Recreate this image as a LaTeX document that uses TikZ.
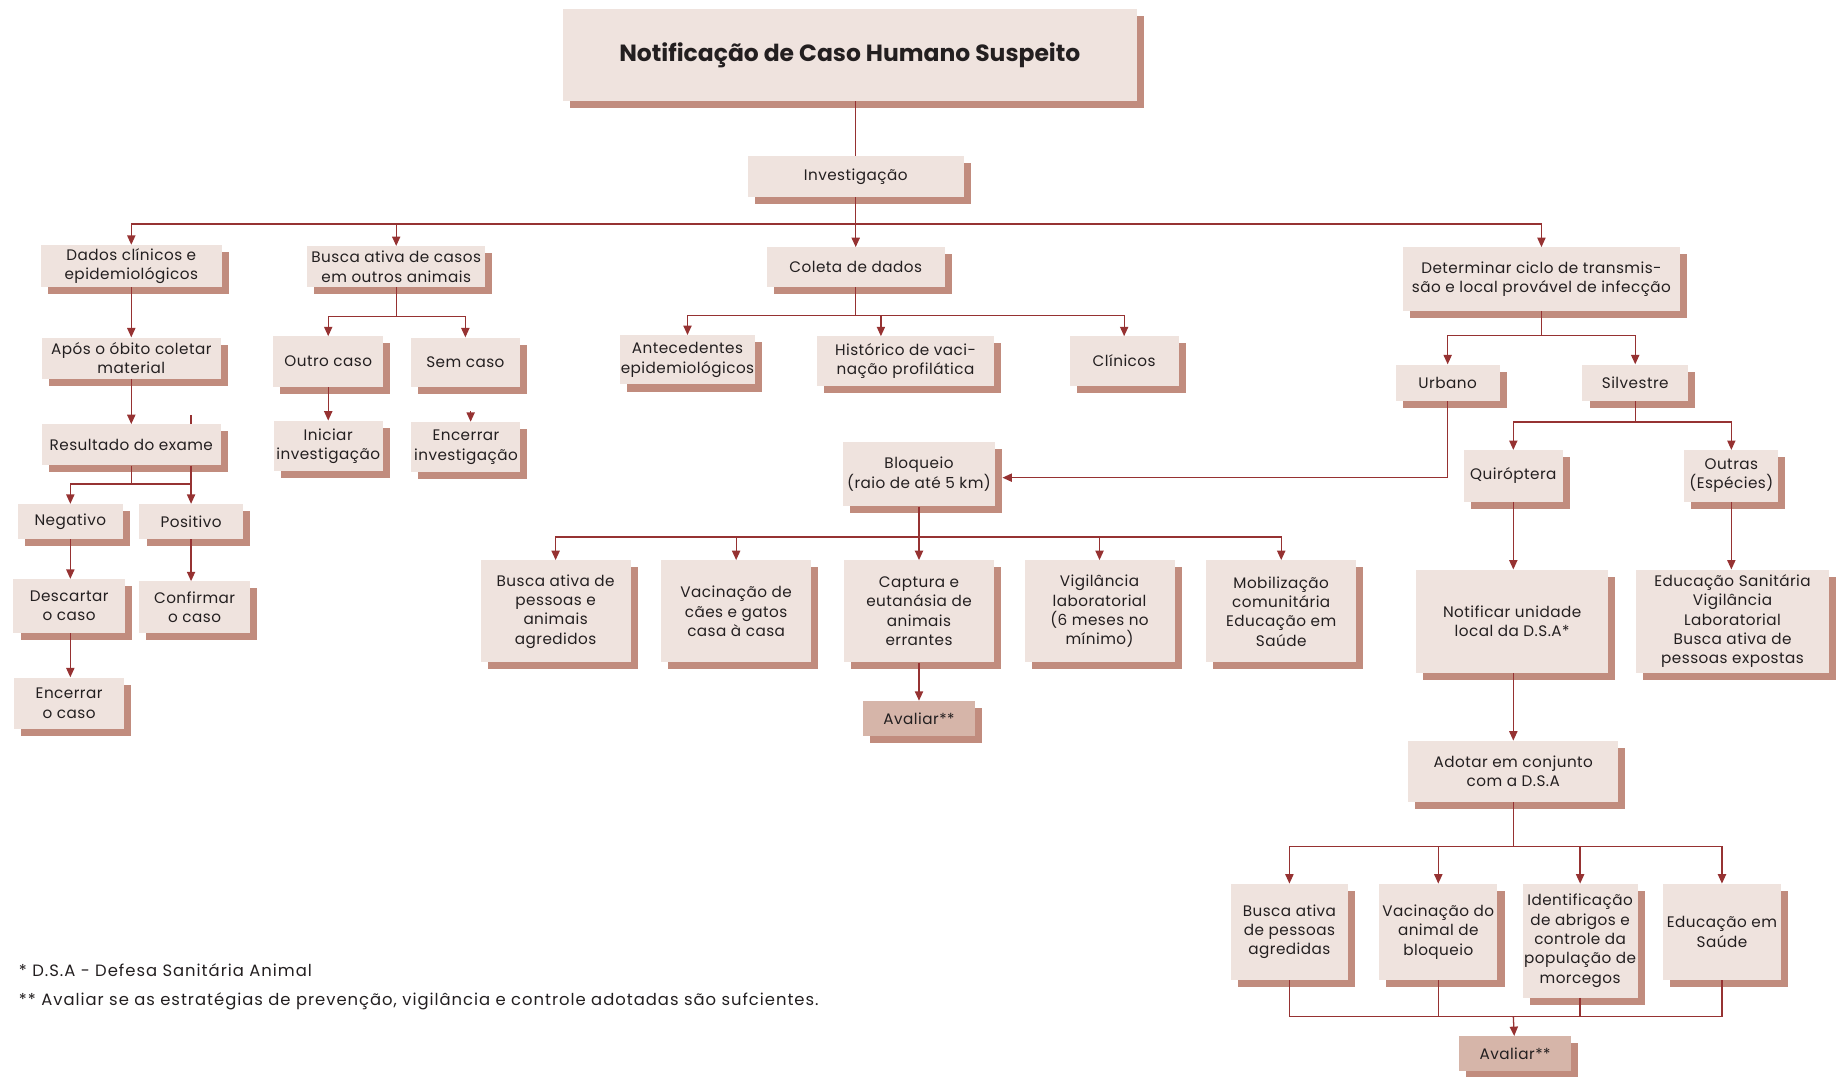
\documentclass[tikz,border=0pt]{standalone}
\usepackage{fontspec}
\setmainfont{Poppins}
\usetikzlibrary{arrows.meta,shadows,calc,positioning}
\definecolor{corfundo}{RGB}{239,227,222}
\definecolor{corsombra}{RGB}{193,140,126}
\definecolor{coraval}{RGB}{214,181,169}
\definecolor{corlinha}{RGB}{150,50,50}
\definecolor{cortexto}{RGB}{35,31,32}

\begin{document}
\begin{tikzpicture}[
    x=1pt, y=-1pt,
    caixa/.style={rectangle, fill=corfundo, text=cortexto, align=center, inner sep=1pt,
        font=\fontsize{13}{16.5}\selectfont\addfontfeature{LetterSpace=3},
        drop shadow={shadow xshift=6pt, shadow yshift=-6pt, fill=corsombra, opacity=1}},
    tam/.style 2 args={minimum width=#1pt, minimum height=#2pt},
    aval/.style={caixa, fill=coraval},
    nota/.style={anchor=west, text=cortexto, inner sep=0pt,
        font=\fontsize{14}{16}\selectfont\addfontfeature{LetterSpace=6}},
    linha/.style={draw=corlinha, line width=1.1pt},
    seta/.style={linha, -{Triangle[length=8pt, width=7pt]}}
]
\useasboundingbox (0,0) rectangle (1568,918);

% Topo
\node[caixa, tam={490}{78}, font=\fontsize{20}{23}\selectfont\bfseries] (titulo) at (725,47) {Notificação de Caso Humano Suspeito};
\node[caixa, tam={184}{35}] (inv) at (730,150.5) {Investigação};

% Primeiro nivel
\node[caixa, tam={154}{36}] (dados) at (112,227) {Dados clínicos e\\epidemiológicos};
\node[caixa, tam={152}{35}] (buscacasos) at (338,227.5) {Busca ativa de casos\\em outros animais};
\node[caixa, tam={152}{34}] (coleta) at (730,228) {Coleta de dados};
\node[caixa, tam={237}{54}] (determ) at (1315,238) {Determinar ciclo de transmis-\\são e local provável de infecção};

% Coluna da esquerda
\node[caixa, tam={153}{35}] (apos) at (112,305.5) {Após o óbito coletar\\material};
\node[caixa, tam={153}{35}] (result) at (112,379.5) {Resultado do exame};
\node[caixa, tam={90}{30}] (neg) at (60,445) {Negativo};
\node[caixa, tam={88}{30}] (pos) at (163,445) {Positivo};
\node[caixa, tam={95}{46}] (descartar) at (59,517) {Descartar\\o caso};
\node[caixa, tam={95}{44}] (confirmar) at (166,518) {Confirmar\\o caso};
\node[caixa, tam={94}{44}] (encerrar) at (59,600) {Encerrar\\o caso};

% Busca em outros animais
\node[caixa, tam={94}{43}] (outro) at (280,308.5) {Outro caso};
\node[caixa, tam={93}{42}] (semcaso) at (397,309) {Sem caso};
\node[caixa, tam={93}{43}] (iniciar) at (280,380.5) {Iniciar\\investigação};
\node[caixa, tam={93}{43}] (encinv) at (397.5,381.5) {Encerrar\\investigação};

% Coleta de dados
\node[caixa, tam={107}{42}] (antec) at (586.5,307) {Antecedentes\\epidemiológicos};
\node[caixa, tam={151}{42}] (hist) at (772.5,308) {Histórico de vaci-\\nação profilática};
\node[caixa, tam={93}{42}] (clin) at (959,308) {Clínicos};

% Bloqueio
\node[caixa, tam={130}{55}] (bloq) at (784,404.5) {Bloqueio\\(raio de até 5 km)};
\node[caixa, tam={128}{87}] (buscapes) at (474,521.5) {Busca ativa de\\pessoas e\\animais\\agredidos};
\node[caixa, tam={128}{87}] (vaccaes) at (628,521.5) {Vacinação de\\cães e gatos\\casa à casa};
\node[caixa, tam={128}{87}] (captura) at (784,521.5) {Captura e\\eutanásia de\\animais\\errantes};
\node[caixa, tam={128}{87}] (vigil) at (938,521.5) {Vigilância\\laboratorial\\(6 meses no\\mínimo)};
\node[caixa, tam={128}{87}] (mobil) at (1093,521.5) {Mobilização\\comunitária\\Educação em\\Saúde};
\node[aval, tam={95}{30}] (avaliar1) at (784,613) {Avaliar**};

% Ciclo de transmissao
\node[caixa, tam={89}{31}] (urbano) at (1235,326.5) {Urbano};
\node[caixa, tam={90}{31}] (silv) at (1395,326.5) {Silvestre};
\node[caixa, tam={84}{44}] (quiro) at (1291,406) {Quiróptera};
\node[caixa, tam={80}{44}] (outras) at (1477,406) {Outras\\(Espécies)};
\node[caixa, tam={164}{88}] (notif) at (1290,530) {Notificar unidade\\local da D.S.A*};
\node[caixa, tam={164}{88}] (educsan) at (1478,530) {Educação Sanitária\\Vigilância\\Laboratorial\\Busca ativa de\\pessoas expostas};
\node[caixa, tam={179}{52}] (adotar) at (1291,658) {Adotar em conjunto\\com a D.S.A};
\node[caixa, tam={100}{82}] (busca2) at (1100,795) {Busca ativa\\de pessoas\\agredidas};
\node[caixa, tam={101}{82}] (vac2) at (1227,795) {Vacinação do\\animal de\\bloqueio};
\node[caixa, tam={98}{97}] (ident) at (1348,802.5) {Identificação\\de abrigos e\\controle da\\população de\\morcegos};
\node[caixa, tam={100}{82}] (educ2) at (1469,795) {Educação em\\Saúde};
\node[aval, tam={95}{30}] (avaliar2) at (1292.5,899) {Avaliar**};

% Notas
\node[nota] (nota1) at (16,828) {* D.S.A - Defesa Sanitária Animal};
\node[nota] (nota2) at (16,854) {** Avaliar se as estratégias de prevenção, vigilância e controle adotadas são sufcientes.};

% Ramificacoes
\coordinate (r1) at (730,191);
\coordinate (r2) at (112,413);
\coordinate (r3) at (338,270);
\coordinate (r4) at (730,269);
\coordinate (r5) at (784,458);
\coordinate (r6) at (1315,286);
\coordinate (r7) at (1395,360);
\coordinate (r8) at (1291,722);
\coordinate (r9) at (1291,867);

% Ligacoes
\draw[linha] (titulo.south -| inv) -- (inv);
\draw[linha] (inv) -- (r1);
\draw[seta] (r1) -| (dados);
\draw[seta] (r1) -| (buscacasos);
\draw[seta] (r1) -- (coleta);
\draw[seta] (r1) -| (determ);

\draw[seta] (dados) -- (apos);
\draw[seta] (apos) -- (result);
\draw[linha] (result.north -| pos) -- ++(0,-8);
\draw[linha] (result) -- (r2);
\draw[seta] (r2) -| (neg);
\draw[linha] (r2) -- (r2 -| pos);
\draw[seta] (result.south -| pos) -- (pos);
\draw[seta] (neg) -- (neg |- descartar.north);
\draw[seta] (neg |- descartar.south) -- (neg |- encerrar.north);
\draw[seta] (pos) -- (pos |- confirmar.north);

\draw[linha] (buscacasos) -- (r3);
\draw[seta] (r3) -| (outro);
\draw[seta] (r3) -| (semcaso);
\draw[seta] (outro) -- (iniciar);
\draw[seta] ([xshift=4pt,yshift=9pt]encinv.north) -- ([xshift=4pt]encinv.north);

\draw[linha] (coleta) -- (r4);
\draw[seta] (r4) -| (antec);
\draw[seta] (r4) -| ([xshift=-21pt]hist.north);
\draw[seta] (r4) -| (clin);

\draw[linha] (bloq) -- (r5);
\draw[seta] (r5) -| (buscapes);
\draw[seta] (r5) -| (vaccaes);
\draw[seta] (r5) -- (captura);
\draw[seta] (r5) -| (vigil);
\draw[seta] (r5) -| (mobil);
\draw[seta] (captura) -- (avaliar1);

\draw[linha] (determ) -- (r6);
\draw[seta] (r6) -| (urbano);
\draw[seta] (r6) -| (silv);
\draw[seta] (urbano) |- ([xshift=6pt,yshift=-3pt]bloq.east);
\draw[linha] (silv) -- (r7);
\draw[seta] (r7) -| (quiro);
\draw[seta] (r7) -| (outras);
\draw[seta] (quiro) -- (quiro |- notif.north);
\draw[seta] (outras) -- (outras |- educsan.north);
\draw[seta] (quiro |- notif.south) -- (adotar);

\draw[linha] (adotar) -- (r8);
\draw[seta] (r8) -| (busca2);
\draw[seta] (r8) -| (vac2);
\draw[seta] (r8) -| (ident);
\draw[seta] (r8) -| (educ2);
\draw[linha] (busca2) |- (r9 -| educ2) -- (educ2);
\draw[linha] (vac2) -- (vac2 |- r9);
\draw[linha] (ident) -- (ident |- r9);
\draw[seta] (r9) -- (avaliar2);

\end{tikzpicture}
\end{document}
